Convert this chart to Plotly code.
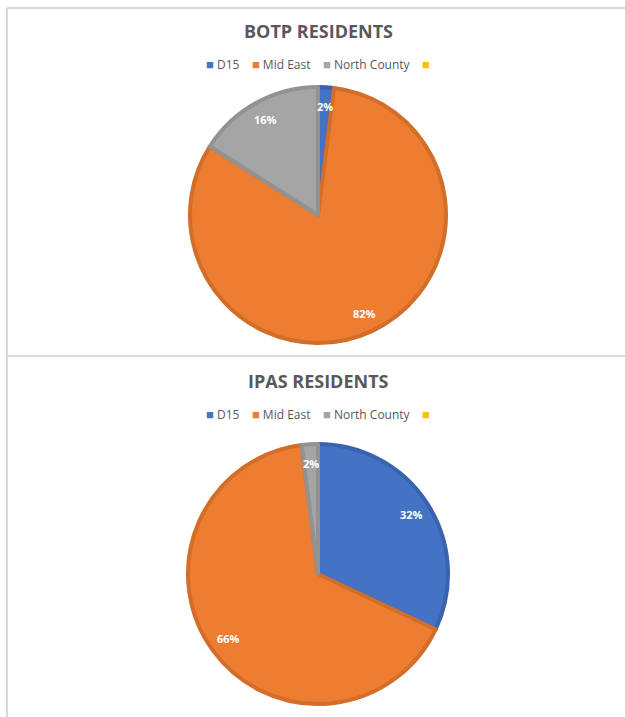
import math
import plotly.graph_objects as go

# Residents by region, percent of total
regions = ["D15", "Mid East", "North County", ""]
botp_pct = [2, 82, 16, 0]
ipas_pct = [32, 66, 2, 0]

fill_colors = ["#4472C4", "#ED7D31", "#A5A5A5", "#FFC000"]
edge_colors = ["#3A63AE", "#D26E2A", "#929292", "#E0A800"]

W, H = 625, 717
FONT = "Open Sans"
GREY_TEXT = "#595959"
LABEL_RADIUS = 0.85  # data labels sit near the rim, along each slice's bisector


def px_x(v):
    return v / W


def px_y(v):
    return 1 - v / H


def pie_domain(cx, cy, r):
    return dict(x=[px_x(cx - r), px_x(cx + r)], y=[px_y(cy + r), px_y(cy - r)])


def pie_trace(values, domain, name):
    labels = [lab if lab else f"(blank {i})" for i, lab in enumerate(regions)]
    return go.Pie(
        labels=labels,
        values=values,
        name=name,
        domain=domain,
        sort=False,
        direction="clockwise",
        rotation=0,
        showlegend=False,
        textinfo="none",
        marker=dict(colors=fill_colors,
                    line=dict(color=edge_colors, width=[4 if v else 0 for v in values])),
        hoverinfo="label+percent",
    )


def slice_labels(values, cx, cy, r):
    """Percent labels placed on each slice's bisector (clockwise from 12 o'clock)."""
    total = sum(values)
    out = []
    start = 0.0
    for v in values:
        if v:
            mid = (start + v / 2) / total * 2 * math.pi
            x = cx + LABEL_RADIUS * r * math.sin(mid)
            y = cy - LABEL_RADIUS * r * math.cos(mid)
            out.append(dict(text=f"<b>{v}%</b>", x=px_x(x), y=px_y(y), xref="paper", yref="paper",
                            showarrow=False, xanchor="center", yanchor="middle",
                            font=dict(family=FONT, size=11, color="white")))
        start += v
    return out


def legend_row():
    gap = "\u00a0" * 4
    parts = []
    for lab, col in zip(regions, fill_colors):
        swatch = f"<span style='color:{col};font-size:13px'>■</span>"
        parts.append(swatch + ("\u00a0" + lab if lab else ""))
    return gap.join(parts)


charts = [
    ("BOTP RESIDENTS", botp_pct, 31, 64, (318, 215, 128)),
    ("IPAS RESIDENTS", ipas_pct, 381, 414, (318, 574, 130)),
]

title_font = dict(family=FONT, size=18, color=GREY_TEXT, weight="bold")
legend_font = dict(family=FONT, size=12, color=GREY_TEXT)

fig = go.Figure()
annotations = []
for title, values, ty, ly, (cx, cy, r) in charts:
    fig.add_trace(pie_trace(values, pie_domain(cx, cy, r), title))
    annotations.append(dict(text=title, x=px_x(cx), y=px_y(ty), xref="paper", yref="paper",
                            showarrow=False, font=title_font, xanchor="center", yanchor="middle"))
    annotations.append(dict(text=legend_row(), x=px_x(cx), y=px_y(ly), xref="paper", yref="paper",
                            showarrow=False, font=legend_font, xanchor="center", yanchor="middle"))
    annotations.extend(slice_labels(values, cx, cy, r))

frame = dict(color="#D9D9D9", width=2)
fig.update_layout(
    width=W,
    height=H,
    margin=dict(l=0, r=0, t=0, b=0),
    paper_bgcolor="white",
    plot_bgcolor="white",
    annotations=annotations,
    shapes=[
        # chart frames
        dict(type="line", xref="paper", yref="paper", x0=px_x(7), x1=1, y0=px_y(8), y1=px_y(8), line=frame),
        dict(type="line", xref="paper", yref="paper", x0=px_x(7), x1=px_x(7), y0=0, y1=px_y(8), line=frame),
        dict(type="line", xref="paper", yref="paper", x0=px_x(7), x1=1, y0=px_y(356), y1=px_y(356), line=frame),
    ],
)

fig.write_html("out.html")
